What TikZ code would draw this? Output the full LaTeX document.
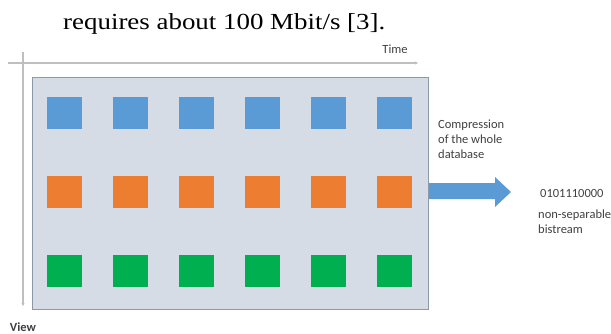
\documentclass[tikz,border=0pt]{standalone}
\usepackage{fontspec}
\setmainfont{Liberation Serif}
\newfontfamily\carlitofont{Carlito}
\usetikzlibrary{arrows.meta}
\definecolor{boxfill}{HTML}{D6DCE5}
\definecolor{boxline}{HTML}{8E99A8}
\definecolor{axisgray}{HTML}{BFBFBF}
\definecolor{sqblue}{HTML}{5B9BD5}
\definecolor{sqorange}{HTML}{ED7D31}
\definecolor{sqgreen}{HTML}{00B050}
\definecolor{txtgray}{HTML}{404040}
\tikzset{
  sq/.style={minimum width=35pt, minimum height=32pt, inner sep=0pt, draw=none},
  lbl/.style={font=\carlitofont\fontsize{12.5}{15}\selectfont, text=txtgray, inner sep=0pt, align=left},
  axis/.style={draw=axisgray, line width=1.2pt, -{Stealth[length=3pt,width=3pt]}}
}
\begin{document}
\begin{tikzpicture}[x=1pt,y=-1pt]
\useasboundingbox (0,0) rectangle (611,333);
\node[anchor=base west, inner sep=0pt, font=\fontsize{23}{27}\selectfont] (cap) at (63,29) {\scalebox{1.17}[1]{requires about 100 Mbit/s [3].}};
% axes
\coordinate (hs) at (8,63);
\coordinate (he) at (418,63);
\coordinate (vs) at (23,52);
\coordinate (ve) at (23,306);
\draw[axis] (hs) -- (he);
\draw[axis] (vs) -- (ve);
\node[lbl] (time) at (395,49) {Time};
\node[lbl, font=\carlitofont\bfseries\fontsize{12.5}{15}\selectfont] (view) at (23,327) {View};
% database box
\node[draw=boxline, fill=boxfill, line width=1.2pt, minimum width=396pt, minimum height=232pt, inner sep=0pt, anchor=north west] (db) at (32,77) {};
% squares
\foreach \i in {0,...,5}{
  \node[sq, fill=sqblue] (b\i) at ({64.5+66*\i},113) {};
  \node[sq, fill=sqorange] (o\i) at ({64.5+66*\i},192) {};
  \node[sq, fill=sqgreen] (g\i) at ({64.5+66*\i},271) {};
}
% big arrow
\fill[sqblue] (db.east |- 0,183) -- (495,183) -- (495,177) -- (511,192) -- (495,207) -- (495,199) -- (db.east |- 0,199) -- cycle;
\node[lbl, anchor=base west] (comp) at (438,158) {Compression\\of the whole\\database};
\node[lbl, anchor=base west] (bits) at (540,197) {0101110000};
\node[lbl, anchor=base west] (nonsep) at (538,233) {non-separable\\bistream};
\end{tikzpicture}
\end{document}
